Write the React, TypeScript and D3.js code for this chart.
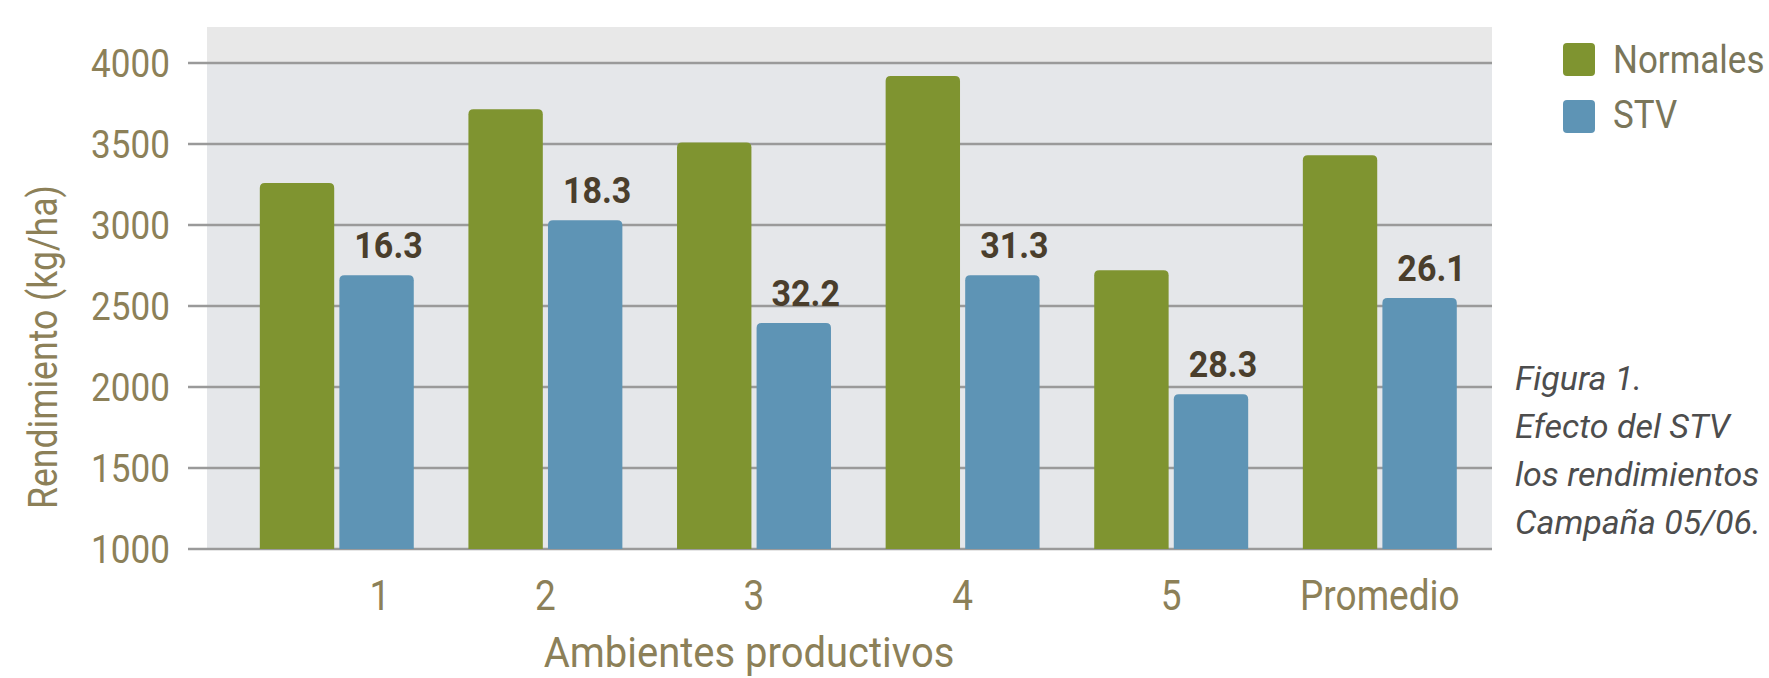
import * as d3 from "d3";

const categories = ["1", "2", "3", "4", "5", "Promedio"];
const normales = [3260, 3715, 3510, 3920, 2720, 3430];
const stv = [2690, 3030, 2395, 2690, 1955, 2550];
const stvLabels = ["16.3", "18.3", "32.2", "31.3", "28.3", "26.1"];
const yTicks = [1000, 1500, 2000, 2500, 3000, 3500, 4000];
const seriesKeys = ["Normales", "STV"];
const captionLines = ["Figura 1.", "Efecto del STV", "los rendimientos", "Campaña 05/06."];

const W = 1769;
const H = 678;
const left = 207;
const right = 1492;
const top = 27;
const bottom = 549;

const GREEN = "#7f9430";
const BLUE = "#5e94b5";
const TICK = "#8c8058";
const FONT = "Roboto, sans-serif";

// rounded-top bar
function barPath(x: number, y: number, w: number, h: number, r: number) {
  return `M${x},${y + h}V${y + r}Q${x},${y} ${x + r},${y}H${x + w - r}Q${x + w},${y} ${x + w},${y + r}V${y + h}Z`;
}

function Txt({ x, y, sx = 1, rot = 0, anchor = "start", size, fill, weight = 400, italic = false, children }: any) {
  return (
    <text
      transform={`translate(${x},${y}) rotate(${rot}) scale(${sx},1)`}
      textAnchor={anchor}
      fontSize={size}
      fill={fill}
      fontWeight={weight}
      fontStyle={italic ? "italic" : "normal"}
      fontFamily={FONT}
    >
      {children}
    </text>
  );
}

export default function App() {
  const x0 = d3
    .scaleBand<string>()
    .domain(categories)
    .range([left, right])
    .paddingInner(0.262)
    .paddingOuter(0.211)
    .align(0.6);
  const x1 = d3
    .scaleBand<string>()
    .domain(seriesKeys)
    .range([0, x0.bandwidth()])
    .paddingInner(0.065);
  const y = d3.scaleLinear().domain([1000, 4000]).range([bottom, 63]);

  const rows = categories.map((c, i) => ({ c, n: normales[i], s: stv[i], lab: stvLabels[i] }));

  return (
    <svg
      width={W}
      height={H}
      style={{ position: "absolute", left: 0, top: 0, background: "#fff" }}
    >
      <rect x={left} y={top} width={right - left} height={bottom - top} fill="#e5e7ea" />
      <rect x={left} y={top} width={right - left} height={y(4000) - top} fill="#e8e8e8" />

      {yTicks.map((t) => (
        <g key={t}>
          <line x1={188} x2={right} y1={y(t)} y2={y(t)} stroke="#9a9a9a" strokeWidth={2.5} />
          <Txt x={170} y={y(t) + 14} sx={0.9} anchor="end" size={39} fill={TICK}>
            {t}
          </Txt>
        </g>
      ))}

      {rows.map((d) => {
        const gx = x0(d.c)!;
        const bw = x1.bandwidth();
        const xs = gx + x1("STV")!;
        return (
          <g key={d.c}>
            <path d={barPath(gx + x1("Normales")!, y(d.n), bw, bottom - y(d.n), 5)} fill={GREEN} />
            <path d={barPath(xs, y(d.s), bw, bottom - y(d.s), 5)} fill={BLUE} />
            <Txt x={xs + bw / 2 + 12} y={y(d.s) - 17} sx={0.92} anchor="middle" size={37} weight={700} fill="#4a3e2c">
              {d.lab}
            </Txt>
          </g>
        );
      })}

      {categories.map((c, i) => (
        <Txt key={c} x={x0(c)! + x0.bandwidth() / 2 + (i === 0 ? 43 : 0)} y={610} sx={0.86} anchor="middle" size={43} fill={TICK}>
          {c}
        </Txt>
      ))}

      <Txt x={749} y={667} sx={0.93} anchor="middle" size={43} fill={TICK}>
        Ambientes productivos
      </Txt>
      <Txt x={57} y={347} rot={-90} sx={0.89} anchor="middle" size={40} fill={TICK}>
        Rendimiento (kg/ha)
      </Txt>

      {seriesKeys.map((k, i) => (
        <g key={k}>
          <rect x={1563} y={43 + i * 57} width={32} height={33} rx={4} fill={i === 0 ? GREEN : BLUE} />
          <Txt x={1613} y={73 + i * 55} sx={0.92} size={38} fill="#7a765a">
            {k}
          </Txt>
        </g>
      ))}

      {captionLines.map((l, i) => (
        <Txt key={i} x={1515} y={390 + i * 48} size={34} italic fill="#4d4d4d">
          {l}
        </Txt>
      ))}
    </svg>
  );
}
